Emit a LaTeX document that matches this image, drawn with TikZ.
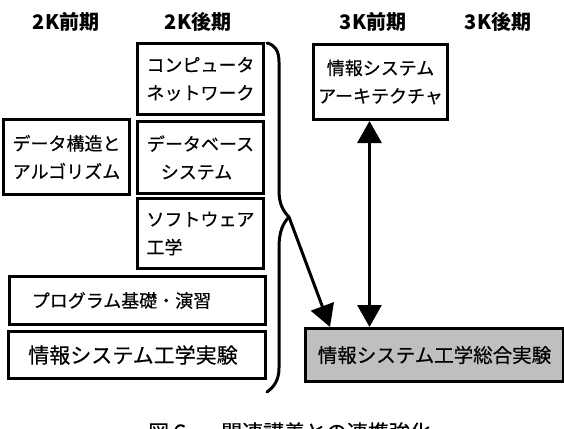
\documentclass[tikz,border=0pt]{standalone}
\usepackage{fontspec}
\setmainfont{Noto Sans CJK JP}
\newfontfamily\boxfont{Noto Sans CJK JP}[FakeBold=0.4]
\usetikzlibrary{arrows.meta,calc}

\tikzset{
  box/.style={draw=black, line width=3pt, fill=white, rectangle, inner sep=0pt,
    anchor=north west, align=center,
    font=\boxfont\fontsize{18pt}{28pt}\selectfont},
  graybox/.style={box, fill=black!25},
  head/.style={font=\bfseries\fontsize{20pt}{24pt}\selectfont, inner sep=0pt},
  brace/.style={line width=3pt, line cap=round, line join=round},
  arr/.style={line width=3pt, -{Triangle[length=22pt,width=24pt]}},
  dblarr/.style={line width=3pt, {Triangle[length=22pt,width=24pt]}-{Triangle[length=22pt,width=24pt]}},
}

\begin{document}
\begin{tikzpicture}[x=1pt, y=-1pt]
  \useasboundingbox (0,0) rectangle (564,428);

  % column headings
  \node[head] (h2a) at (66,22)  {2K前期};
  \node[head] (h2b) at (198,22) {2K後期};
  \node[head] (h3a) at (373,22) {3K前期};
  \node[head] (h3b) at (498,22) {3K後期};

  % courses
  \node[box, minimum width=126pt, minimum height=71pt] (cn)   at (136,42)  {コンピュータ\\ネットワーク};
  \node[box, minimum width=134pt, minimum height=75pt] (arch) at (312,43)  {情報システム\\アーキテクチャ};
  \node[box, minimum width=126pt, minimum height=75pt] (ds)   at (2,118)   {データ構造と\\アルゴリズム};
  \node[box, minimum width=126pt, minimum height=72pt] (db)   at (136,120) {データベース\\システム\hspace*{8pt}};
  \node[box, minimum width=126pt, minimum height=70pt, align=left] (se) at (136,197) {ソフトウェア\\工学};
  \node[box, minimum width=256pt, minimum height=48pt] (prog) at (8,275)   {プログラム基礎・演習\hspace*{32pt}};
  \node[box, minimum width=257pt, minimum height=47pt,
        font=\boxfont\fontsize{21pt}{24pt}\selectfont] (exp) at (7,330) {情報システム工学実験\hspace*{8pt}};
  \node[graybox, minimum width=258pt, minimum height=53pt,
        font=\boxfont\fontsize{19.5pt}{24pt}\selectfont] (sogo) at (304,327) {情報システム工学総合実験};

  % brace gathering the 2K courses
  \coordinate (tip) at (289,217);
  \draw[brace] (267,43) .. controls (275,45) and (279,51) .. (279,62)
    -- (279,190) .. controls (279,204) and (283,211) .. (tip)
    .. controls (283,223) and (279,232) .. (279,247)
    -- (279,368) .. controls (279,380) and (274,387) .. (267,392);

  % links into the combined experiment
  \draw[arr] (tip) -- ([xshift=26pt]sogo.north west);
  \coordinate (ax) at ([xshift=-11pt]arch.south);
  \draw[dblarr] (ax) -- (ax |- sogo.north);

  % caption, running past the lower edge of the page
  \node[anchor=base west, inner sep=0pt, font=\boxfont\fontsize{21pt}{24pt}\selectfont]
    (cap) at (148,440) {図６\hspace{31pt}関連講義との連携強化};
\end{tikzpicture}
\end{document}
